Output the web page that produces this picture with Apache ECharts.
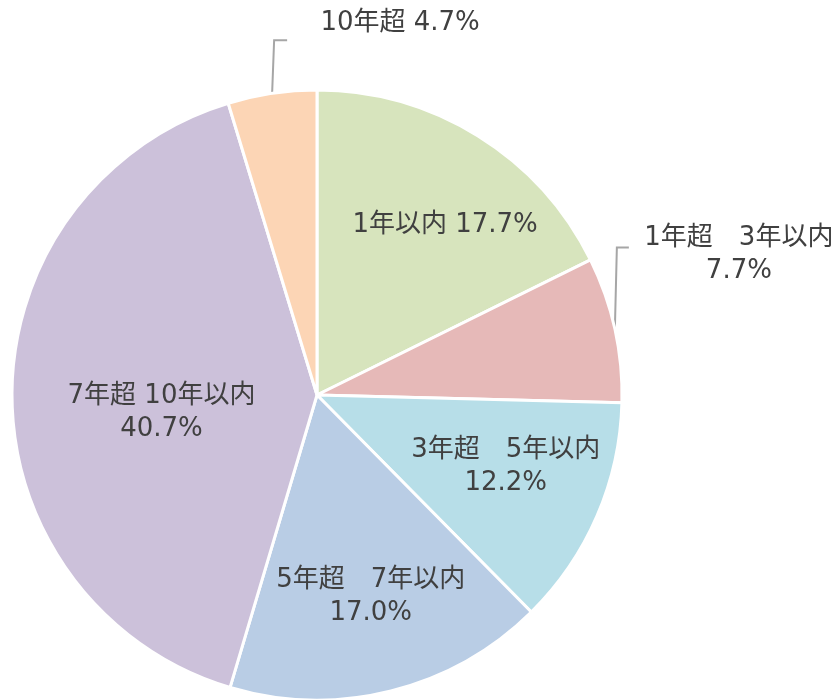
<!DOCTYPE html>
<html>
<head>
<meta charset="utf-8">
<script src="https://cdn.jsdelivr.net/npm/echarts@6/dist/echarts.min.js"></script>
<style>
  html, body { margin: 0; padding: 0; background: #ffffff; }
  #chart { width: 839px; height: 699px; }
</style>
</head>
<body>
<div id="chart"></div>
<script>
// Remaining-term breakdown (share of total, %)
const categories = ['1年以内', '1年超\u30003年以内', '3年超\u30005年以内', '5年超\u30007年以内', '7年超 10年以内', '10年超'];
const shares = [17.7, 7.7, 12.2, 17.0, 40.7, 4.7];
const sliceColors = ['#d7e4bd', '#e6b9b8', '#b7dee8', '#b9cde5', '#ccc1da', '#fcd5b5'];
// label text on one line (name + value) or two lines (name / value)
const singleLine = [true, false, false, false, false, true];
// slices whose labels sit outside with a leader line
const outsideLabel = [false, true, false, false, false, true];

// Label placement tweaks: inside labels are nudged from their default spot,
// outside labels are placed relative to the leader line's anchor on the rim.
const insideShift = { 0: [46, -38], 2: [46, 10], 3: [16, 51], 4: [0, 17] };
const outsideLabelOffset = { 1: [124, -75], 5: [128, -70] };
const leaderBend = { 1: [[2, -82], [14, -82]], 5: [[2, -53], [15, -53]] };

const FONT = "'DejaVu Sans', 'Noto Sans CJK JP', sans-serif";
const chart = echarts.init(document.getElementById('chart'), null, { renderer: 'canvas' });

const seriesData = categories.map((name, i) => ({
  name: name,
  value: shares[i],
  itemStyle: { color: sliceColors[i] },
  label: { position: outsideLabel[i] ? 'outside' : 'inside' },
  labelLine: { show: outsideLabel[i] }
}));

chart.setOption({
  animation: false,
  backgroundColor: '#ffffff',
  series: [{
    type: 'pie',
    center: [317, 395],
    radius: 305,
    startAngle: 90,
    clockwise: true,
    avoidLabelOverlap: false,
    data: seriesData,
    itemStyle: { borderColor: '#ffffff', borderWidth: 3 },
    label: {
      show: true,
      color: '#404040',
      fontFamily: FONT,
      fontSize: 26,
      lineHeight: 33,
      align: 'center',
      formatter: function (p) {
        const v = p.value.toFixed(1) + '%';
        return singleLine[p.dataIndex] ? p.name + ' ' + v : p.name + '\n' + v;
      }
    },
    labelLine: {
      lineStyle: { color: '#a6a6a6', width: 2 }
    },
    emphasis: { disabled: true },
    labelLayout: function (params) {
      const i = params.dataIndex;
      const r = params.labelRect;
      if (outsideLabel[i]) {
        const pts = params.labelLinePoints;
        const anchor = pts && pts.length ? pts[0] : [r.x + r.width / 2, r.y + r.height / 2];
        const off = outsideLabelOffset[i];
        const bend = leaderBend[i];
        return {
          x: anchor[0] + off[0],
          y: anchor[1] + off[1],
          align: 'center',
          verticalAlign: 'middle',
          labelLinePoints: [
            [anchor[0], anchor[1]],
            [anchor[0] + bend[0][0], anchor[1] + bend[0][1]],
            [anchor[0] + bend[1][0], anchor[1] + bend[1][1]]
          ]
        };
      }
      const s = insideShift[i] || [0, 0];
      return {
        x: r.x + r.width / 2 + s[0],
        y: r.y + r.height / 2 + s[1],
        align: 'center',
        verticalAlign: 'middle'
      };
    }
  }]
});
</script>
</body>
</html>
